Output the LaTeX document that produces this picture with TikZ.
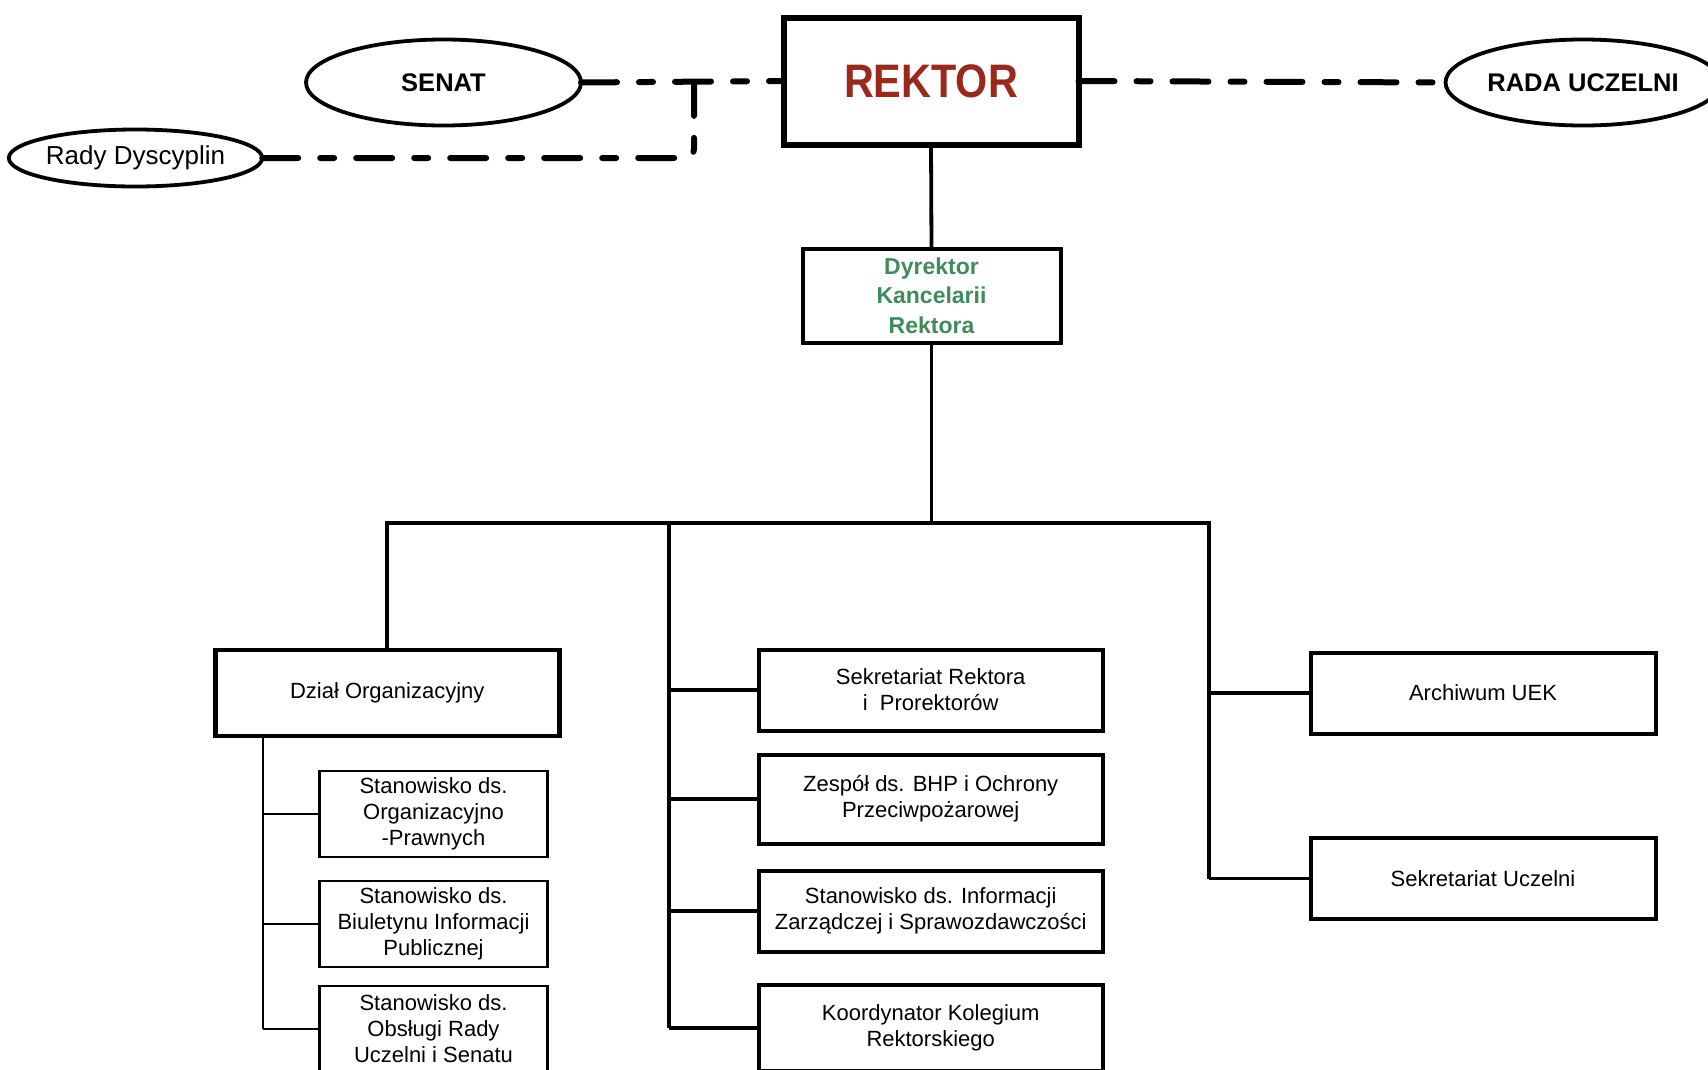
\documentclass[tikz,border=0pt]{standalone}
\usepackage{fontspec}
\setmainfont{Liberation Sans}
\usetikzlibrary{shapes.geometric}
\definecolor{rektorred}{RGB}{155,40,28}
\definecolor{dyrgreen}{RGB}{62,140,88}
\tikzset{
  every node/.style={inner sep=0pt, outer sep=0pt, align=center},
  bodytext/.style={font=\fontsize{22}{26}\selectfont},
  topbox/.style={draw, line width=6pt, minimum width=295pt, minimum height=127pt},
  dirbox/.style={draw, line width=4pt, minimum width=258pt, minimum height=94pt,
                 text=dyrgreen, font=\fontsize{23}{29.5}\selectfont\bfseries},
  unitbox/.style={draw, line width=4pt, minimum width=344pt, bodytext},
  mainunit/.style={draw, line width=4.6pt, minimum width=344pt, minimum height=86pt, bodytext},
  subbox/.style={draw, line width=2.8pt, minimum width=228pt, minimum height=86pt, bodytext},
  bodyoval/.style={draw, ellipse, line width=3.8pt},
  link/.style={line width=3.8pt},
  thinlink/.style={line width=2pt},
  dashlink/.style={line width=6pt, line cap=round,
                   dash pattern=on 36pt off 22pt on 14pt off 22pt}
}
\begin{document}
\begin{tikzpicture}[x=1pt, y=-1pt]
\useasboundingbox (0,0) rectangle (1708,1069);

% governing bodies
\node[topbox] (rektor) at (931,81)
  {\color{rektorred}\fontsize{47}{50}\selectfont\bfseries\scalebox{0.88}[1]{REKTOR}};
\node[bodyoval, minimum width=275pt, minimum height=86pt,
      font=\fontsize{25.5}{30}\selectfont\bfseries] (senat) at (443.5,82.5) {SENAT};
\node[bodyoval, minimum width=240pt, minimum height=57pt,
      font=\fontsize{26}{30}\selectfont] (rady) at (135.5,158) {Rady Dyscyplin};
\node[bodyoval, minimum width=275pt, minimum height=86pt,
      font=\fontsize{25.5}{30}\selectfont\bfseries] (rada) at (1583,82.5) {RADA UCZELNI};

% chancellery director
\node[dirbox] (dyr) at (931.5,295.5) {Dyrektor\\Kancelarii\\Rektora};

% departments
\node[mainunit] (dzial) at (387.25,693) {Dział Organizacyjny};

\node[unitbox, minimum height=81pt] (s1) at (930.7,690) {Sekretariat Rektora\\i\ \ Prorektorów};
\node[unitbox, minimum height=89pt] (s2) at (930.7,799) {Zespół ds. BHP i Ochrony\\Przeciwpożarowej};
\node[unitbox, minimum height=81pt] (s3) at (930.7,911) {Stanowisko ds. Informacji\\Zarządczej i Sprawozdawczości};
\node[unitbox, minimum height=86pt] (s4) at (930.7,1028) {Koordynator Kolegium\\Rektorskiego};

\node[unitbox, minimum width=345pt, minimum height=81pt] (arch) at (1483,693) {Archiwum UEK};
\node[unitbox, minimum width=345pt, minimum height=81pt] (secu) at (1483,878.5) {Sekretariat Uczelni};

\node[subbox] (o1) at (433.5,814) {Stanowisko ds.\\Organizacyjno\\-Prawnych};
\node[subbox] (o2) at (433.5,924) {Stanowisko ds.\\Biuletynu Informacji\\Publicznej};
\node[subbox] (o3) at (433.5,1029) {Stanowisko ds.\\Obsługi Rady\\Uczelni i Senatu};

% bus coordinates
\coordinate (busL) at (387.25,523);
\coordinate (busM) at (669,523);
\coordinate (busR) at (1209,523);
\coordinate (join) at (694,82.5);
\coordinate (lcol) at (262.5,0);

% dashed advisory links
\draw[dashlink] (senat.east) -- (rektor.west);
\draw[dashlink] (rektor.east) -- (rada.west);
\draw[dashlink, rounded corners=9pt] (rady.east) -- (join |- rady.east) -- (join);

% hierarchy
\draw[link] (rektor.south) -- (dyr.north);
\draw[link] (dyr.south) -- (dyr.south |- busL);
\draw[link, line cap=rect] (busL) -- (busR);
\draw[link] (busL) -- (dzial.north);

\draw[link] (busM) -- (busM |- s4.west);
\foreach \n in {s1,s2,s3,s4}
  \draw[link] (busM |- \n.west) -- (\n.west);

\draw[link] (busR) -- (busR |- secu.west);
\foreach \n in {arch,secu}
  \draw[link] (busR |- \n.west) -- (\n.west);

\draw[thinlink] (lcol |- dzial.south) -- (lcol |- o3.west);
\foreach \n in {o1,o2,o3}
  \draw[thinlink] (lcol |- \n.west) -- (\n.west);
\end{tikzpicture}
\end{document}
